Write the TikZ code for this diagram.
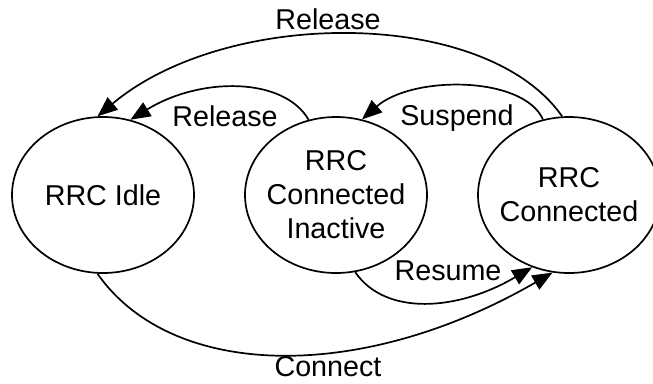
\documentclass[tikz,border=0pt]{standalone}
\usepackage{fontspec}
\setmainfont{Liberation Sans}
\usetikzlibrary{shapes.geometric,arrows.meta}
\begin{document}
\begin{tikzpicture}[x=1pt,y=-1pt,
  state/.style={draw,ellipse,line width=1.7pt,minimum width=182pt,minimum height=156pt,inner sep=0pt},
  txt/.style={font=\fontsize{28.7}{34}\selectfont,align=center,inner sep=0pt},
  lbl/.style={font=\fontsize{28.7}{34}\selectfont,inner sep=0pt,anchor=base},
  arr/.style={line width=1.7pt,-{Triangle[length=20pt,width=16pt]}}]
\useasboundingbox[fill=white] (0,0) rectangle (653,383);
\node[state] (idle) at (103,195) {};
\node[state] (ina) at (336,195) {};
\node[state] (con) at (569,195) {};
\node[txt] (idlet) at (idle.center) {RRC Idle};
\node[txt] (inat) at (ina.center) {RRC\\Connected\\Inactive};
\node[txt] (cont) at (con.center) {RRC\\Connected};
\draw[arr] (con.95) .. controls +(-76,-109) and +(130,-109) .. (idle.94);
\draw[arr] (ina.110) .. controls +(-25,-43) and +(70,-43) .. (idle.70);
\draw[arr] (con.109) .. controls +(-20,-44) and +(50,-44) .. (ina.71);
\draw[arr] (ina.284) .. controls +(30,44) and +(-75,44) .. (con.243);
\draw[arr] (idle.266) .. controls +(75,107) and +(-190,110) .. (con.258);
\node[lbl] (l1) at (328,29) {Release};
\node[lbl] (l2) at (225,126) {Release};
\node[lbl] (l3) at (457,125) {Suspend};
\node[lbl] (l4) at (448,280) {Resume};
\node[lbl] (l5) at (328,376) {Connect};
\end{tikzpicture}
\end{document}
